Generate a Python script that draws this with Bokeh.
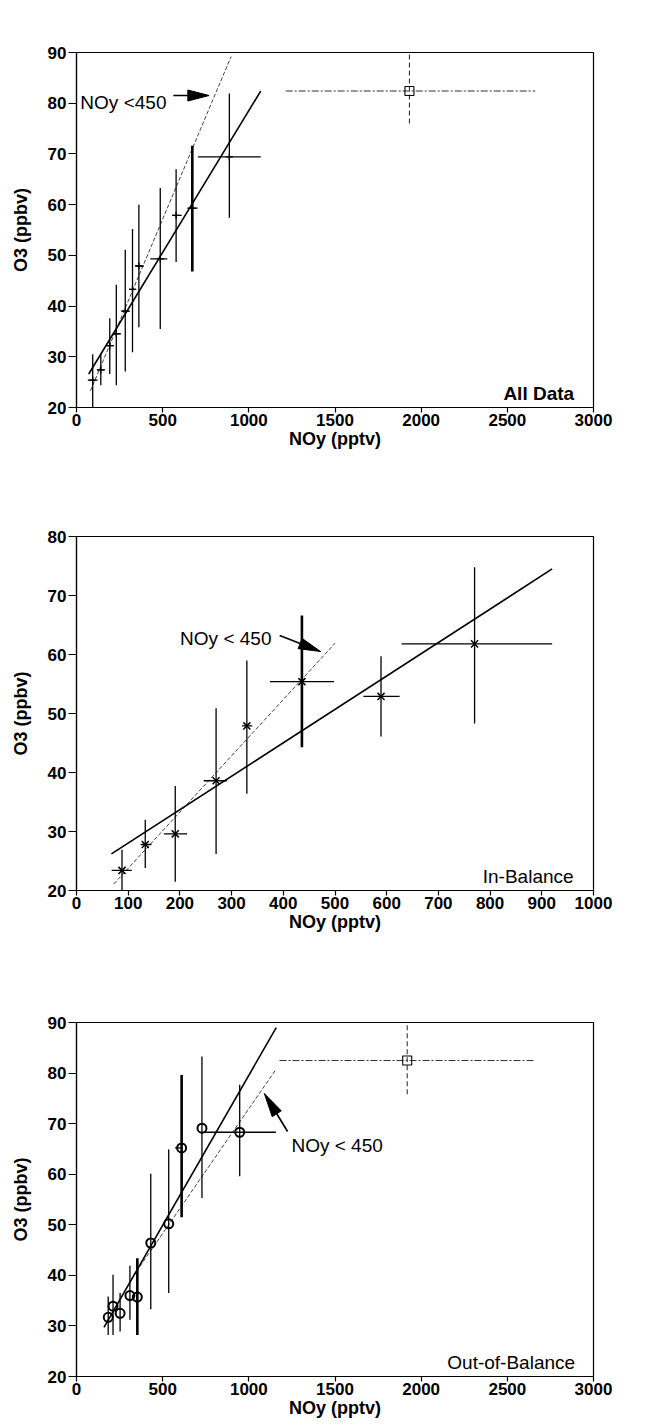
from bokeh.plotting import figure
from bokeh.layouts import column
from bokeh.models import Range1d, Label, FixedTicker, ColumnDataSource
from bokeh.embed import file_html
from bokeh.resources import INLINE

# ---------------- data ----------------
# Panel (a) All Data
a_x   = [94, 141, 193, 231, 283, 325, 362, 486, 578, 672, 887]
a_y   = [25.4, 27.4, 32.2, 34.5, 39.0, 43.3, 47.9, 49.3, 57.9, 59.3, 69.4]
a_ylo = [20.0, 24.4, 26.6, 24.4, 27.1, 30.9, 35.8, 35.5, 48.7, 46.8, 57.4]
a_yhi = [30.5, 30.5, 37.6, 44.2, 51.1, 55.2, 60.0, 63.3, 67.0, 71.6, 81.9]
a_xlo = [66, 118, 169, 212, 259, 306, 340, 428, 555, 643, 705]
a_xhi = [122, 165, 218, 259, 310, 347, 390, 527, 610, 703, 1069]
a_sq_x, a_sq_y = [1932], [82.4]
a_sq_xlo, a_sq_xhi = [1214], [2662]
a_sq_ylo, a_sq_yhi = [76.0], [89.6]
a_fit_x, a_fit_y = [71, 1069], [26.6, 82.4]
a_fit450_x, a_fit450_y = [81, 897], [23.3, 89.2]

# Panel (b) In-Balance
b_x   = [88, 133, 191, 270, 329.5, 436, 589, 770]
b_y   = [23.4, 27.8, 29.6, 38.6, 47.9, 55.4, 52.9, 61.8]
b_ylo = [20.0, 23.8, 21.5, 26.2, 36.4, 44.3, 46.1, 48.3]
b_yhi = [26.9, 32.0, 37.7, 50.9, 59.0, 66.6, 59.7, 74.8]
b_xlo = [68, 124, 169, 246, 320, 374, 555, 629]
b_xhi = [107, 145, 214, 291, 340, 498, 625, 920]
b_fit_x, b_fit_y = [67.6, 920], [26.2, 74.5]
b_fit450_x, b_fit450_y = [72, 500], [21.1, 61.9]

# Panel (c) Out-of-Balance
c_x   = [184, 212, 253, 310, 353, 431, 535, 610, 728, 947]
c_y   = [31.7, 33.9, 32.5, 36.0, 35.7, 46.4, 50.2, 65.2, 69.1, 68.3]
c_ylo = [28.2, 28.2, 28.9, 31.2, 28.2, 33.3, 36.5, 51.5, 55.3, 59.6]
c_yhi = [35.8, 40.1, 36.5, 41.9, 43.4, 60.1, 64.9, 79.6, 83.3, 77.7]
c_xlo = [184, 212, 253, 310, 353, 431, 535, 572, 728, 741]
c_xhi = [184, 212, 253, 310, 353, 431, 535, 610, 728, 1157]
c_sq_x, c_sq_y = [1919], [82.5]
c_sq_xlo, c_sq_xhi = [1178], [2655]
c_sq_ylo, c_sq_yhi = [75.8], [89.7]
c_fit_x, c_fit_y = [159.5, 1159], [29.7, 89.0]
c_fit450_x, c_fit450_y = [328, 1159], [39.8, 80.8]

x_ticks_3000 = [0, 500, 1000, 1500, 2000, 2500, 3000]
x_ticks_1000 = [0, 100, 200, 300, 400, 500, 600, 700, 800, 900, 1000]
y_ticks_90 = [20, 30, 40, 50, 60, 70, 80, 90]
y_ticks_80 = [20, 30, 40, 50, 60, 70, 80]

FONT = "Liberation Sans"


def make_fig(height, xr, yr, xticks, yticks, borders):
    left, right, top, bottom = borders
    p = figure(width=645, height=height, output_backend="svg", toolbar_location=None,
               x_range=Range1d(*xr), y_range=Range1d(*yr),
               min_border_left=left, min_border_right=right,
               min_border_top=top, min_border_bottom=bottom)
    p.background_fill_color = "white"
    p.border_fill_color = "white"
    p.outline_line_color = "black"
    p.outline_line_width = 1.2
    p.xgrid.visible = False
    p.ygrid.visible = False
    p.xaxis.ticker = FixedTicker(ticks=xticks)
    p.yaxis.ticker = FixedTicker(ticks=yticks)
    for ax in (p.xaxis, p.yaxis):
        ax.axis_line_color = "black"
        ax.axis_line_width = 1.2
        ax.major_tick_line_color = "black"
        ax.major_tick_line_width = 1.2
        ax.major_tick_in = 0
        ax.minor_tick_line_color = None
        ax.major_label_text_font = FONT
        ax.major_label_text_font_style = "bold"
        ax.major_label_text_font_size = "17px"
        ax.major_label_text_color = "black"
        ax.axis_label_text_font = FONT
        ax.axis_label_text_font_style = "bold"
        ax.axis_label_text_font_size = "18px"
        ax.axis_label_text_color = "black"
    p.xaxis.major_tick_out = 5
    p.xaxis.major_label_standoff = 1
    p.xaxis.axis_label_standoff = 0
    p.yaxis.major_tick_out = 8
    p.yaxis.major_label_standoff = 2
    p.yaxis.axis_label_standoff = 14
    p.xaxis.axis_label = "NOy (pptv)"
    p.yaxis.axis_label = "O3 (ppbv)"
    return p


def geom(p, page_top, borders, height):
    left, right, top, bottom = borders
    return dict(left=left, right=645 - right, top=page_top + top,
                bottom=page_top + height - bottom,
                x0=p.x_range.start, x1=p.x_range.end,
                y0=p.y_range.start, y1=p.y_range.end)


def to_data(g, px, py):
    x = g["x0"] + (px - g["left"]) / (g["right"] - g["left"]) * (g["x1"] - g["x0"])
    y = g["y0"] + (g["bottom"] - py) / (g["bottom"] - g["top"]) * (g["y1"] - g["y0"])
    return x, y


def arrow(p, g, tail, tip, head_len=22, head_w=11):
    (tx, ty), (hx, hy) = tail, tip
    dx, dy = hx - tx, hy - ty
    L = (dx * dx + dy * dy) ** 0.5
    ux, uy = dx / L, dy / L
    bx, by = hx - ux * head_len, hy - uy * head_len
    nx, ny = -uy, ux
    pts = [(hx, hy), (bx + nx * head_w / 2, by + ny * head_w / 2),
           (bx - nx * head_w / 2, by - ny * head_w / 2)]
    d0 = to_data(g, tx, ty)
    d1 = to_data(g, bx, by)
    p.line([d0[0], d1[0]], [d0[1], d1[1]], line_color="black", line_width=1.6)
    dp = [to_data(g, *q) for q in pts]
    p.patch([q[0] for q in dp], [q[1] for q in dp], fill_color="black", line_color="black")


def label(p, g, text, px, py, size="18px", style="normal", align="left", baseline="alphabetic"):
    x, y = to_data(g, px, py)
    p.add_layout(Label(x=x, y=y, text=text, text_font=FONT, text_font_size=size,
                       text_font_style=style, text_align=align, text_baseline=baseline,
                       text_color="black"))


def error_bars(p, x, y, xlo, xhi, ylo, yhi, thick):
    widths = [2.6 if i in thick else 1.3 for i in range(len(x))]
    src = ColumnDataSource(dict(x=x, y=y, xlo=xlo, xhi=xhi, ylo=ylo, yhi=yhi, w=widths))
    p.segment(x0="x", y0="ylo", x1="x", y1="yhi", source=src, line_color="black", line_width="w")
    p.segment(x0="xlo", y0="y", x1="xhi", y1="y", source=src, line_color="black", line_width=1.3)
    return src


def square_point(p, x, y, xlo, xhi, ylo, yhi):
    p.segment(x0=xlo, y0=y, x1=xhi, y1=y, line_color="#333333", line_width=1.1, line_dash="7 2 2 2")
    p.segment(x0=x, y0=ylo, x1=x, y1=yhi, line_color="#333333", line_width=1.1, line_dash="5 3")
    p.scatter(x, y, marker="square", size=9, fill_color=None, line_color="black", line_width=1.1)


# ---------------- panel (a) ----------------
A_B = (76, 35, 52, 61)
A_H = 468
pa = make_fig(A_H, (0, 3000), (20, 90), x_ticks_3000, y_ticks_90, A_B)
ga = geom(pa, 0, A_B, A_H)
pa.line(a_fit450_x, a_fit450_y, line_color="#444444", line_width=1.0, line_dash="4 2")
pa.line(a_fit_x, a_fit_y, line_color="black", line_width=1.6)
sa = error_bars(pa, a_x, a_y, a_xlo, a_xhi, a_ylo, a_yhi, thick={9})
pa.scatter("x", "y", source=sa, marker="cross", size=7, line_color="black", line_width=1.3)
square_point(pa, a_sq_x, a_sq_y, a_sq_xlo, a_sq_xhi, a_sq_ylo, a_sq_yhi)
label(pa, ga, "NOy <450", 80, 102, size="19px")
arrow(pa, ga, (176, 95), (213, 95))
label(pa, ga, "All Data", 590, 393, size="19px", style="bold", align="right")
label(pa, ga, "(a)", 642, 31, size="20px", style="bold", align="right", baseline="middle")

# ---------------- panel (b) ----------------
B_B = (74, 52, 68, 65)
B_H = 487
pb = make_fig(B_H, (0, 1000), (20, 80), x_ticks_1000, y_ticks_80, B_B)
gb = geom(pb, A_H, B_B, B_H)
pb.line(b_fit450_x, b_fit450_y, line_color="#444444", line_width=1.0, line_dash="4 2")
pb.line(b_fit_x, b_fit_y, line_color="black", line_width=1.6)
sb = error_bars(pb, b_x, b_y, b_xlo, b_xhi, b_ylo, b_yhi, thick={5})
pb.scatter("x", "y", source=sb, marker="x", size=10, line_color="black", line_width=1.5)
label(pb, gb, "NOy < 450", 178, 638, size="19px")
arrow(pb, gb, (278, 635), (319, 651))
label(pb, gb, "In-Balance", 573, 876, size="19px", align="right")
label(pb, gb, "(b)", 641, 516, size="20px", style="bold", align="right", baseline="middle")

# ---------------- panel (c) ----------------
C_B = (73, 38, 67, 48)
C_H = 469
pc = make_fig(C_H, (0, 3000), (20, 90), x_ticks_3000, y_ticks_90, C_B)
gc = geom(pc, A_H + B_H, C_B, C_H)
pc.line(c_fit450_x, c_fit450_y, line_color="#444444", line_width=1.0, line_dash="4 2")
pc.line(c_fit_x, c_fit_y, line_color="black", line_width=1.6)
sc = error_bars(pc, c_x, c_y, c_xlo, c_xhi, c_ylo, c_yhi, thick={4, 7})
pc.scatter("x", "y", source=sc, marker="circle", size=9, fill_color=None,
           line_color="black", line_width=2.0)
square_point(pc, c_sq_x, c_sq_y, c_sq_xlo, c_sq_xhi, c_sq_ylo, c_sq_yhi)
label(pc, gc, "NOy < 450", 295, 1145, size="19px")
arrow(pc, gc, (291, 1131), (267, 1093), head_len=24, head_w=11)
label(pc, gc, "Out-of-Balance", 588, 1362, size="19px", align="right")
label(pc, gc, "(c)", 641, 1001, size="20px", style="bold", align="right", baseline="middle")

layout = column(pa, pb, pc, spacing=0)
open("out.html", "w").write(file_html(layout, INLINE))
